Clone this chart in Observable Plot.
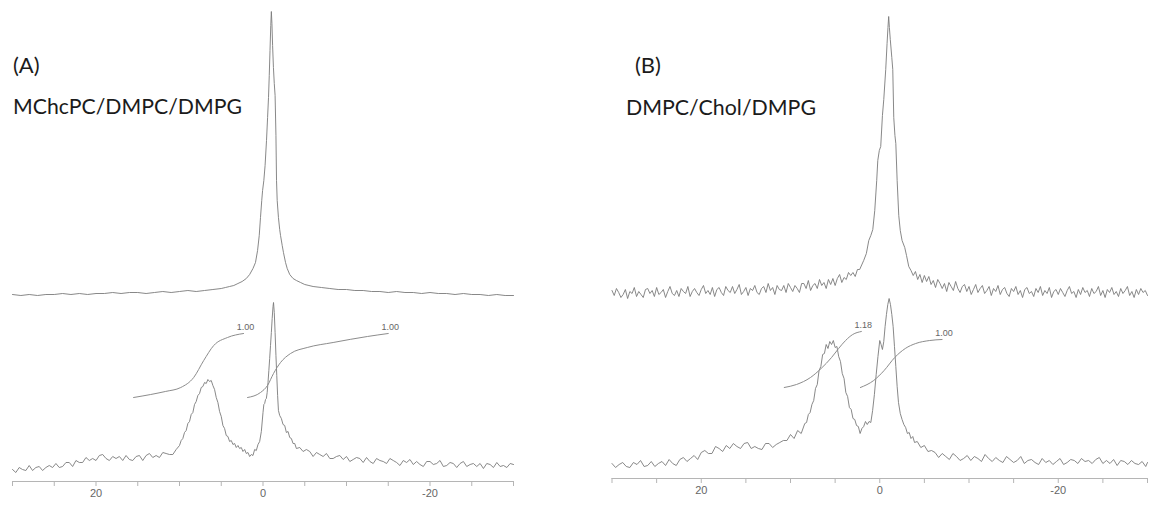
<!DOCTYPE html>
<html><head><meta charset="utf-8">
<script src="https://cdn.jsdelivr.net/npm/d3@7"></script>
<script src="https://cdn.jsdelivr.net/npm/@observablehq/plot@0.6"></script>
<style>
body{margin:0;background:#fff;}
#wrap{position:relative;width:1151px;height:508px;overflow:hidden;background:#fff;}
#wrap svg.panel{position:absolute;top:0;}
#titles{position:absolute;left:0;top:0;pointer-events:none;}
</style></head><body><div id="wrap"></div>
<script>
// ---------- axis ticks (ppm) ----------
const xTicks = [30,25,20,15,10,5,0,-5,-10,-15,-20,-25,-30];
const xTickLabels = [20,0,-20];

// ---------- panel titles ----------
const panelLetters = ["(A)", "(B)"];
const panelNames = ["MChcPC/DMPC/DMPG", "DMPC/Chol/DMPG"];

// ---------- integral labels ----------
const integralLabelsA = ["1.00", "1.00"];
const integralLabelsB = ["1.18", "1.00"];

// ---------- Panel A, upper spectrum [ppm, intensity] ----------
const specAHigh = [[30,1],[29,0],[28,1],[27,0],[26,1],[25,1],[24,2],[23,1],[22,2],[21,1],[20,2],[19,2],[18,3],[17,2],[16,3],[15,3],[14,2],[13,3],[12,4],[11,3],[10,4],[9,5],[8,4],[7,5],[6,6],[5,7],[4.5,8],[4,9],[3.5,10],[3,12],[2.5,14],[2,17],[1.6,21],[1.2,27],[0.9,33],[0.65,45],[0.45,60],[0.3,78],[0.15,95],[0.05,105],[-0.1,115],[-0.25,130],[-0.42,155],[-0.55,178],[-0.66,198],[-0.75,220],[-0.84,245],[-0.93,270],[-1.0,284],[-1.07,272],[-1.15,250],[-1.25,228],[-1.35,212],[-1.45,200],[-1.55,160],[-1.62,115],[-1.7,95],[-1.85,78],[-2.0,66],[-2.1,60],[-2.3,50],[-2.45,43],[-2.7,33],[-2.9,27],[-3.2,21],[-3.6,17],[-4.0,15],[-4.5,13],[-5,11],[-5.5,10],[-6,9],[-7,8],[-8,7],[-9,6],[-10,6],[-11,5],[-12,5],[-13,4],[-14,4],[-15,3],[-16,4],[-17,3],[-18,3],[-19,2],[-20,3],[-21,2],[-22,2],[-23,1],[-24,2],[-25,1],[-26,1],[-27,0],[-28,1],[-29,0],[-30,0]];

// ---------- Panel A, lower spectrum ----------
const specALow = [[30,1],[29.6,-2],[29.2,3],[28.8,1],[28.4,0],[28,5],[27.6,0],[27.2,3],[26.8,4],[26.4,0],[26,3],[25.6,5],[25.2,3],[24.8,7],[24.4,3],[24,4],[23.6,8],[23.2,8],[22.8,4],[22.4,10],[22,8],[21.6,8],[21.2,13],[20.8,10],[20.4,12],[20,10],[19.6,15],[19.2,16],[18.8,12],[18.4,10],[18,14],[17.6,12],[17.2,14],[16.8,10],[16.4,15],[16,11],[15.6,10],[15.2,14],[14.8,15],[14.4,10],[14,15],[13.6,17],[13.2,13],[12.8,15],[12.4,13],[12,18],[11.6,17],[11.2,16],[10.8,16],[10.4,21],[10,25],[9.8,30],[9.6,32],[9.4,38],[9.2,40],[9,47],[8.8,49],[8.6,56],[8.4,58],[8.2,66],[8,69],[7.8,75],[7.6,77],[7.4,83],[7.2,84],[7,88],[6.8,87],[6.6,91],[6.4,89],[6.2,90],[6,85],[5.8,81],[5.6,73],[5.4,68],[5.2,59],[5,54],[4.8,45],[4.6,42],[4.4,35],[4.2,34],[4,29],[3.8,30],[3.6,26],[3.4,27],[3.2,23],[3,25],[2.8,22],[2.6,23],[2.4,19],[2.2,21],[2,17],[1.8,18],[1.6,14],[1.4,16],[1.2,15],[1,21],[0.8,20],[0.6,26],[0.4,29],[0.2,39],[0,58],[-0.1,66],[-0.2,67],[-0.3,71],[-0.4,72],[-0.5,78],[-0.6,88],[-0.7,100],[-0.8,112],[-0.9,125],[-1,138],[-1.1,152],[-1.2,164],[-1.26,168],[-1.35,158],[-1.45,138],[-1.55,115],[-1.65,95],[-1.75,75],[-1.85,60],[-2,55],[-2.2,52],[-2.4,46],[-2.6,45],[-2.8,38],[-3,39],[-3.2,33],[-3.4,32],[-3.6,27],[-3.8,27],[-4,22],[-4.4,23],[-4.8,19],[-5.2,21],[-5.6,19],[-6,14],[-6.4,18],[-6.8,16],[-7.2,14],[-7.6,17],[-8,12],[-8.4,12],[-8.8,14],[-9.2,15],[-9.6,11],[-10,14],[-10.4,9],[-10.8,11],[-11.2,13],[-11.6,12],[-12,8],[-12.4,13],[-12.8,9],[-13.2,7],[-13.6,12],[-14,10],[-14.4,9],[-14.8,7],[-15.2,12],[-15.6,10],[-16,8],[-16.4,5],[-16.8,10],[-17.2,8],[-17.6,11],[-18,6],[-18.4,9],[-18.8,6],[-19.2,4],[-19.6,9],[-20,9],[-20.4,6],[-20.8,7],[-21.2,10],[-21.6,4],[-22,5],[-22.4,8],[-22.8,7],[-23.2,3],[-23.6,7],[-24,9],[-24.4,4],[-24.8,6],[-25.2,7],[-25.6,4],[-26,7],[-26.4,2],[-26.8,7],[-27.2,6],[-27.6,3],[-28,8],[-28.4,4],[-28.8,5],[-29.2,3],[-29.6,7],[-30,6]];

// ---------- Panel A integrals ----------
const intA1 = [[15.5,73],[13.45,76],[11.7,79],[9.85,83],[8.3,93],[7.1,110],[5.9,125],[4.25,133],[2.33,137]];
const intA2 = [[1.85,73],[0.3,78],[-0.54,85],[-1.26,97],[-2.1,108],[-3.3,117],[-5.3,123],[-8.4,128],[-12.5,134],[-15,137]];

// ---------- Panel B, upper spectrum ----------
const specBHigh = [[30,5],[29.75,0],[29.5,7],[29.25,3],[29,-2],[28.75,1],[28.5,6],[28.25,-3],[28,4],[27.75,2],[27.5,8],[27.25,-1],[27,4],[26.75,1],[26.5,-2],[26.25,6],[26,7],[25.75,2],[25.5,5],[25.25,-1],[25,8],[24.75,1],[24.5,3],[24.25,6],[24,-2],[23.75,4],[23.5,9],[23.25,2],[23,0],[22.75,5],[22.5,-1],[22.25,7],[22,4],[21.75,2],[21.5,9],[21.25,-1],[21,4],[20.75,7],[20.5,3],[20.25,0],[20,6],[19.75,10],[19.5,2],[19.25,5],[19,1],[18.75,8],[18.5,-1],[18.25,6],[18,8],[17.75,3],[17.5,0],[17.25,9],[17,5],[16.75,3],[16.5,9],[16.25,2],[16,6],[15.75,11],[15.5,1],[15.25,4],[15,8],[14.75,0],[14.5,7],[14.25,5],[14,10],[13.75,3],[13.5,1],[13.25,7],[13,9],[12.75,3],[12.5,12],[12.25,5],[12,8],[11.75,1],[11.5,10],[11.25,6],[11,5],[10.75,10],[10.5,3],[10.25,12],[10,8],[9.75,4],[9.5,10],[9.25,7],[9,3],[8.75,12],[8.5,12],[8.25,7],[8,15],[7.75,5],[7.5,10],[7.25,12],[7,7],[6.75,16],[6.5,10],[6.25,13],[6,7],[5.75,16],[5.5,11],[5.25,17],[5,10],[4.75,17],[4.5,21],[4.25,13],[4,18],[3.75,16],[3.5,23],[3.25,20],[3,23],[2.75,19],[2.5,26],[2.25,26],[1.8,35],[1.5,42],[1.23,55],[1,60],[0.78,66],[0.56,85],[0.34,115],[0.22,135],[0.05,145],[-0.11,149],[-0.3,180],[-0.45,196],[-0.67,226],[-0.82,252],[-0.92,268],[-1,279],[-1.08,268],[-1.18,256],[-1.35,238],[-1.46,226],[-1.57,178],[-1.7,160],[-1.8,152],[-1.95,115],[-2.13,80],[-2.3,65],[-2.5,55],[-2.8,48],[-3,40],[-3.25,29],[-3.5,25],[-3.75,20],[-4,24],[-4.25,16],[-4.5,21],[-4.75,13],[-5,20],[-5.25,14],[-5.5,19],[-5.75,11],[-6,15],[-6.25,8],[-6.5,16],[-6.75,12],[-7,7],[-7.25,12],[-7.5,4],[-7.75,13],[-8,9],[-8.25,5],[-8.5,14],[-8.75,7],[-9,3],[-9.25,9],[-9.5,11],[-9.75,4],[-10,9],[-10.25,1],[-10.5,6],[-10.75,11],[-11,3],[-11.25,7],[-11.5,10],[-11.75,2],[-12,5],[-12.25,9],[-12.5,0],[-12.75,7],[-13,4],[-13.25,10],[-13.5,1],[-13.75,6],[-14,8],[-14.25,2],[-14.5,-1],[-14.75,7],[-15,4],[-15.25,9],[-15.5,1],[-15.75,5],[-16,-2],[-16.25,6],[-16.5,8],[-16.75,2],[-17,4],[-17.25,-1],[-17.5,7],[-17.75,3],[-18,9],[-18.25,0],[-18.5,5],[-18.75,2],[-19,8],[-19.25,-2],[-19.5,4],[-19.75,6],[-20,1],[-20.25,7],[-20.5,3],[-20.75,-1],[-21,5],[-21.25,9],[-21.5,2],[-21.75,4],[-22,-2],[-22.25,6],[-22.5,1],[-22.75,8],[-23,3],[-23.25,5],[-23.5,-1],[-23.75,7],[-24,2],[-24.25,4],[-24.5,9],[-24.75,0],[-25,5],[-25.25,-2],[-25.5,6],[-25.75,3],[-26,8],[-26.25,1],[-26.5,4],[-26.75,-1],[-27,7],[-27.25,2],[-27.5,5],[-27.75,9],[-28,0],[-28.25,4],[-28.5,-2],[-28.75,6],[-29,1],[-29.25,7],[-29.5,3],[-29.75,5],[-30,0]];

// ---------- Panel B, lower spectrum ----------
const specBLow = [[30,3],[29.6,-1],[29.2,2],[28.8,4],[28.4,0],[28,-1],[27.6,4],[27.2,2],[26.8,6],[26.4,0],[26,1],[25.6,5],[25.2,0],[24.8,3],[24.4,5],[24,1],[23.6,7],[23.2,3],[22.8,1],[22.4,7],[22,9],[21.6,5],[21.2,8],[20.8,11],[20.4,7],[20,14],[19.6,16],[19.2,13],[18.8,13],[18.4,20],[18,18],[17.6,15],[17.2,21],[16.8,18],[16.4,23],[16,20],[15.6,18],[15.2,23],[14.8,24],[14.4,18],[14,20],[13.6,18],[13.2,17],[12.8,23],[12.4,23],[12,19],[11.6,22],[11.2,24],[10.8,26],[10.4,26],[10,32],[9.6,28],[9.2,36],[8.8,33],[8.4,43],[8.2,44],[8,52],[7.8,54],[7.6,62],[7.4,66],[7.2,78],[7,82],[6.8,96],[6.6,100],[6.4,112],[6.2,113],[6,122],[5.8,118],[5.6,125],[5.4,122],[5.2,126],[5,119],[4.8,120],[4.6,110],[4.4,105],[4.2,93],[4,88],[3.8,74],[3.6,70],[3.4,59],[3.2,57],[3,48],[2.8,47],[2.6,41],[2.4,40],[2.2,33],[2,38],[1.8,40],[1.6,45],[1.4,42],[1.2,45],[1,44],[0.8,56],[0.6,72],[0.4,92],[0.2,110],[0,126],[-0.15,122],[-0.3,117],[-0.45,125],[-0.6,140],[-0.75,152],[-0.9,162],[-1.05,168],[-1.2,162],[-1.35,152],[-1.5,140],[-1.65,120],[-1.8,100],[-1.95,80],[-2.1,64],[-2.3,53],[-2.5,47],[-2.7,42],[-2.9,39],[-3.1,33],[-3.3,34],[-3.5,28],[-3.7,30],[-3.9,24],[-4.2,25],[-4.6,19],[-5,21],[-5.4,15],[-5.8,16],[-6.2,14],[-6.6,9],[-7,13],[-7.4,10],[-7.8,7],[-8.2,13],[-8.6,10],[-9,6],[-9.4,8],[-9.8,11],[-10.2,6],[-10.6,10],[-11,8],[-11.4,5],[-11.8,12],[-12.2,8],[-12.6,5],[-13,9],[-13.4,6],[-13.8,4],[-14.2,10],[-14.6,7],[-15,4],[-15.4,6],[-15.8,10],[-16.2,3],[-16.6,6],[-17,7],[-17.4,4],[-17.8,2],[-18.2,8],[-18.6,4],[-19,6],[-19.4,2],[-19.8,5],[-20.2,8],[-20.6,2],[-21,4],[-21.4,7],[-21.8,6],[-22.2,3],[-22.6,8],[-23,5],[-23.4,6],[-23.8,3],[-24.2,7],[-24.6,9],[-25,3],[-25.4,6],[-25.8,3],[-26.2,7],[-26.6,1],[-27,6],[-27.4,5],[-27.8,2],[-28.2,6],[-28.6,3],[-29,2],[-29.4,5],[-29.8,0],[-30,4]];

// ---------- Panel B integrals ----------
const intB1 = [[10.7,79],[9.33,82],[7.76,89],[6.57,98],[5.4,109],[4.61,118],[3.83,126],[3.03,132],[2.06,135]];
const intB2 = [[2.17,79],[0.68,86],[-0.49,96],[-1.68,109],[-2.86,118],[-4.03,123],[-5.6,126],[-6.98,127]];

// ---------- drawing ----------
const SPEC = "#7a7a7a", INTEG = "#8c8c8c";

function panel(cfg) {
  const yMax = 508 - cfg.mb;
  const ends = cfg.ints.map((s, i) => ({x: s[s.length - 1][0], y: s[s.length - 1][1], t: cfg.labels[i]}));
  const svg = Plot.plot({
    width: cfg.width, height: 508,
    marginLeft: cfg.ml, marginRight: cfg.mr, marginTop: 0, marginBottom: cfg.mb,
    style: {fontFamily: "Liberation Sans, Arial, sans-serif", background: "transparent", overflow: "visible"},
    x: {domain: [30, -30]},
    y: {domain: [0, yMax], axis: null},
    marks: [
      Plot.ruleY([0], {stroke: "#b5b5b5", strokeWidth: 1}),
      Plot.axisX(xTicks, {tickSize: 5, stroke: "#b5b5b5", fill: "#666", fontSize: 11, tickPadding: 3,
        tickFormat: d => xTickLabels.includes(d) ? String(d) : "", label: null}),
      Plot.line(cfg.high, {x: d => d[0], y: d => d[1] + cfg.offHigh, stroke: SPEC, strokeWidth: 0.9}),
      Plot.line(cfg.low, {x: d => d[0], y: d => d[1] + cfg.offLow, stroke: SPEC, strokeWidth: 0.9}),
      ...cfg.ints.map(s => Plot.line(s, {x: d => d[0], y: d => d[1] + cfg.offLow, stroke: INTEG, strokeWidth: 1, curve: "monotone-x"})),
      Plot.text(ends, {x: "x", y: d => d.y + cfg.offLow, text: "t", dy: -6, dx: 2, fill: "#666", fontSize: 9})
    ]
  });
  svg.classList.add("panel");
  svg.style.left = cfg.left + "px";
  return svg;
}

const wrap = document.getElementById("wrap");
wrap.appendChild(panel({left: 0, width: 575, ml: 12, mr: 62, mb: 27, offLow: 11, offHigh: 186,
  high: specAHigh, low: specALow, ints: [intA1, intA2], labels: integralLabelsA}));
wrap.appendChild(panel({left: 575, width: 576, ml: 36.5, mr: 4, mb: 30, offLow: 12, offHigh: 183,
  high: specBHigh, low: specBLow, ints: [intB1, intB2], labels: integralLabelsB}));

// titles
const t = d3.select(wrap).append("svg").attr("id", "titles").attr("width", 1151).attr("height", 508)
  .style("font-family", "Lato, 'Open Sans', sans-serif").style("fill", "#1b1b1b");
t.append("text").attr("x", 13).attr("y", 73).attr("font-size", 22).text(panelLetters[0]);
t.append("text").attr("x", 13).attr("y", 114).attr("font-size", 22).attr("textLength", 229).attr("lengthAdjust", "spacingAndGlyphs").text(panelNames[0]);
t.append("text").attr("x", 635).attr("y", 73).attr("font-size", 22).text(panelLetters[1]);
t.append("text").attr("x", 626).attr("y", 115).attr("font-size", 22).attr("textLength", 190).attr("lengthAdjust", "spacingAndGlyphs").text(panelNames[1]);
</script>
</body></html>
